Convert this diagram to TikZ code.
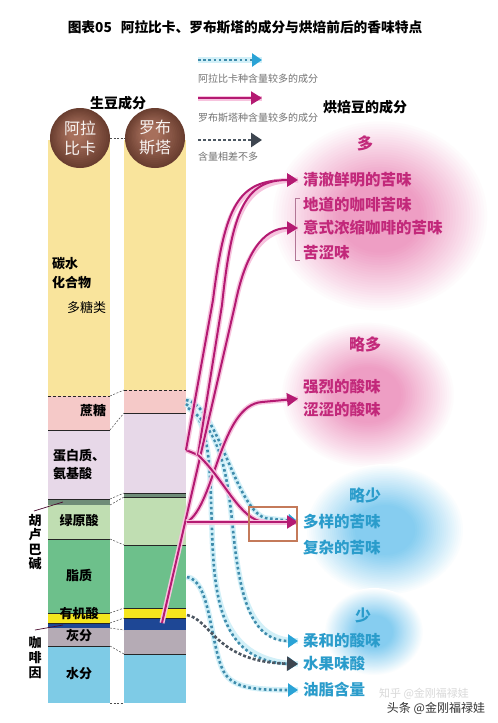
\documentclass[tikz,border=0pt]{standalone}
\usepackage{fontspec}
\setmainfont{Noto Sans CJK SC}
\usetikzlibrary{arrows.meta,calc}
\definecolor{barY}{HTML}{F9E49C}
\definecolor{barP}{HTML}{F5C9C8}
\definecolor{barL}{HTML}{E7D8E8}
\definecolor{barBand}{HTML}{6F8C78}
\definecolor{barLG}{HTML}{C0DEB2}
\definecolor{barMG}{HTML}{6DC08B}
\definecolor{barY2}{HTML}{F6E61E}
\definecolor{barN}{HTML}{1E4795}
\definecolor{barG}{HTML}{B5ABB5}
\definecolor{barB}{HTML}{7ECBE6}
\definecolor{brownL}{HTML}{A8705C}
\definecolor{brownD}{HTML}{6A3E30}
\definecolor{magC}{HTML}{B41A72}
\definecolor{magH}{HTML}{F7C3DE}
\definecolor{pinkT}{HTML}{C2287A}
\definecolor{blueT}{HTML}{2A9CCB}
\definecolor{dotC}{HTML}{3F8CAC}
\definecolor{cyanH}{HTML}{D2F0F8}
\definecolor{cyanT}{HTML}{2AA3D6}
\definecolor{dotG}{HTML}{4D5762}
\definecolor{grayT}{HTML}{3E4650}
\definecolor{pinkblobC}{HTML}{EE9EC4}
\definecolor{blueblobC}{HTML}{86CDF0}
\definecolor{boxC}{HTML}{C47A5A}
\newcommand\softblob[4]{%
  \foreach \i in {0,...,29}{%
    \pgfmathsetmacro\rf{1-\i*0.026}%
    \pgfmathsetmacro\cp{min(100,\i*4.2)}%
    \fill[#4!\cp!white] #1 ellipse [x radius=\rf*#2, y radius=\rf*#3];
  }%
}
\newcommand\beanball[1]{%
  \foreach \i in {0,...,14}{%
    \pgfmathsetmacro\rf{30-\i*1.6}%
    \pgfmathsetmacro\cp{\i*7}%
    \fill[brownL!\cp!brownD] #1 ++(-\i*0.25,-\i*0.35) circle [radius=\rf pt];
  }%
}
\tikzset{
  barline/.style={draw=black!85, line width=0.8pt},
  dashline/.style={draw=black!85, line width=0.8pt, dash pattern=on 3pt off 2pt},
  link/.style={draw=gray!60!black, line width=0.5pt, dash pattern=on 2pt off 1.5pt},
  magline/.style={draw=magC, line width=2pt, preaction={draw=magH, line width=5pt}},
  magarrow/.style={draw=magC, line width=2pt, preaction={draw=magH, line width=5pt, arrows=-},
     -{Triangle[length=11pt,width=13pt,color=magC]}, shorten >=2pt},
  cyanarrow/.style={draw=dotC, line width=2.6pt, dash pattern=on 2.6pt off 2.6pt,
     preaction={draw=cyanH, line width=5.5pt, solid, arrows=-},
     -{Triangle[length=10pt,width=13pt,color=cyanT]}, shorten >=2pt},
  grayarrow/.style={draw=dotG, line width=2.6pt, dash pattern=on 3pt off 2pt,
     -{Triangle[length=11pt,width=14pt,color=grayT]}, shorten >=2pt},
  leader/.style={draw=black!60!magC, line width=0.7pt},
  bartext/.style={font=\bfseries\fontsize{13}{14}\selectfont, inner sep=0pt},
  rtextP/.style={font=\bfseries\fontsize{15.5}{16}\selectfont, text=pinkT, inner sep=3pt, anchor=west},
  rtextB/.style={font=\bfseries\fontsize{15.5}{16}\selectfont, text=blueT, inner sep=3pt, anchor=west},
  legtext/.style={font=\fontsize{10}{11}\selectfont, text=black!55, anchor=west, inner sep=0pt},
  head/.style={font=\bfseries\fontsize{14}{15}\selectfont, inner sep=0pt},
}
\begin{document}
\begin{tikzpicture}[x=1pt,y=-1pt]
\useasboundingbox (0,0) rectangle (498,723);
\fill[white] (0,0) rectangle (498,723);

% blobs
\softblob{(380,216)}{110pt}{97pt}{pinkblobC}
\softblob{(368,395)}{88pt}{74pt}{pinkblobC}
\softblob{(385,530)}{80pt}{66pt}{blueblobC}
\softblob{(374,632)}{50pt}{44pt}{blueblobC}

% title and headers
\node[font=\bfseries\fontsize{13.7}{15}\selectfont, inner sep=0pt] (title) at (245,27) {图表05\hspace{9pt}阿拉比卡、罗布斯塔的成分与烘焙前后的香味特点};
\node[head] (raw) at (118,103) {生豆成分};
\node[head] (roast) at (365,107) {烘焙豆的成分};

% legend
\coordinate (lg1a) at (198,60); \coordinate (lg1b) at (262,60);
\coordinate (lg2a) at (198,98); \coordinate (lg2b) at (262,98);
\coordinate (lg3a) at (198,140); \coordinate (lg3b) at (262,140);
\draw[cyanarrow, shorten >=0pt] (lg1a) -- (lg1b);
\node[legtext] (lgt1) at (198,79) {阿拉比卡种含量较多的成分};
\draw[magarrow, shorten >=0pt] (lg2a) -- (lg2b);
\node[legtext] (lgt2) at (198,118) {罗布斯塔种含量较多的成分};
\draw[grayarrow, shorten >=0pt] (lg3a) -- (lg3b);
\node[legtext] (lgt3) at (198,157) {含量相差不多};

% left bar (Arabica)
\fill[barY] (48,140) rectangle (110,396);
\fill[barP] (48,396) rectangle (110,430);
\fill[barL] (48,430) rectangle (110,499);
\fill[barBand] (48,499) rectangle (110,505);
\fill[barLG] (48,505) rectangle (110,539);
\fill[barMG] (48,539) rectangle (110,613);
\fill[barY2] (48,613) rectangle (110,623);
\fill[barN] (48,623) rectangle (110,628);
\fill[barG] (48,628) rectangle (110,646);
\fill[barB] (48,646) rectangle (110,703);
\draw[dashline] (48,396) -- (110,396);
\foreach \yy in {430,499,539,613,623,646} \draw[barline] (48,\yy) -- (110,\yy);

% right bar (Robusta)
\fill[barY] (124,140) rectangle (186,390);
\fill[barP] (124,390) rectangle (186,413);
\fill[barL] (124,413) rectangle (186,493);
\fill[barBand] (124,493) rectangle (186,497);
\fill[barLG] (124,497) rectangle (186,545);
\fill[barMG] (124,545) rectangle (186,608);
\fill[barY2] (124,608) rectangle (186,618);
\fill[barN] (124,618) rectangle (186,630);
\fill[barG] (124,630) rectangle (186,654);
\fill[barB] (124,654) rectangle (186,703);
\draw[dashline] (124,390) -- (186,390);
\foreach \yy in {413,493,497,545,608,618,654} \draw[barline] (124,\yy) -- (186,\yy);

% links between bars
\draw[link] (110,138) -- (125,138);
\draw[link] (110,396) -- (124,390);
\draw[link] (110,430) -- (124,413);
\draw[link] (110,499) -- (124,493);
\draw[link] (110,505) -- (124,497);
\draw[link] (110,539) -- (124,545);
\draw[link] (110,613) -- (124,608);
\draw[link] (110,623) -- (124,618);
\draw[link] (110,628) -- (124,630);
\draw[link] (110,646) -- (124,654);
\draw[link] (110,703) -- (124,703);

% beans
\beanball{(80,138)}
\beanball{(155,138)}
\node[font=\fontsize{16}{20}\selectfont, text=white!92!brownL, align=center, inner sep=0pt] (ara) at (80,138) {阿拉\\比卡};
\node[font=\fontsize{16}{20}\selectfont, text=white!92!brownL, align=center, inner sep=0pt] (rob) at (155,138) {罗布\\斯塔};

% bar labels
\node[bartext, anchor=west] (carb1) at (52,264) {碳水};
\node[bartext, anchor=west] (carb2) at (52,283) {化合物};
\node[font=\fontsize{13}{14}\selectfont, inner sep=0pt, anchor=west] (poly) at (67,308) {多糖类};
\node[bartext] (suc) at (93,411) {蔗糖};
\node[bartext, anchor=west] (prot1) at (53,456) {蛋白质、};
\node[bartext, anchor=west] (prot2) at (53,474) {氨基酸};
\node[bartext] (cga) at (79,521) {绿原酸};
\node[bartext] (lip) at (79,576) {脂质};
\node[bartext] (org) at (79,614) {有机酸};
\node[bartext] (ash) at (79,636) {灰分};
\node[bartext] (wat) at (79,674) {水分};
\node[font=\bfseries\fontsize{13}{14.5}\selectfont, align=center, inner sep=0pt] (trig) at (35,542) {胡\\卢\\巴\\碱};
\node[font=\bfseries\fontsize{13}{15}\selectfont, align=center, inner sep=0pt] (caf) at (35,658) {咖\\啡\\因};
\coordinate (trigTop) at (34,511);
\coordinate (trigBand) at (63,502);
\coordinate (cafTop) at (35,630);
\coordinate (cafBand) at (63,625);
\draw[leader] (trigTop) -- (trigBand);
\draw[leader] (cafTop) -- (cafBand);

% right side texts
\node[font=\bfseries\fontsize{16}{16}\selectfont, text=pinkT, inner sep=0pt] (lv1) at (365,143) {多};
\node[rtextP] (t1) at (300,180) {清澈鲜明的苦味};
\node[rtextP] (t2) at (300,205) {地道的咖啡苦味};
\node[rtextP] (t3) at (300,228) {意式浓缩咖啡的苦味};
\node[rtextP] (t4) at (300,253) {苦涩味};
\node[font=\bfseries\fontsize{16}{16}\selectfont, text=pinkT, inner sep=0pt] (lv2) at (365,344) {略多};
\node[rtextP] (s1) at (300,387) {强烈的酸味};
\node[rtextP] (s2) at (300,410) {涩涩的酸味};
\node[font=\bfseries\fontsize{16}{16}\selectfont, text=blueT, inner sep=0pt] (lv3) at (365,495) {略少};
\node[rtextB] (m1) at (300,522) {多样的苦味};
\node[rtextB] (m2) at (300,548) {复杂的苦味};
\node[font=\bfseries\fontsize{16}{16}\selectfont, text=blueT, inner sep=0pt] (lv4) at (363,615) {少};
\node[rtextB] (w1) at (300,641) {柔和的酸味};
\node[rtextB] (w2) at (300,664) {水果味酸};
\node[rtextB] (w3) at (300,690) {油脂含量};

% bracket
\draw[draw=black!35!pinkT!60, line width=0.6pt] (t2.west) ++(0,-7) -- ++(-5,0) |- ($(t4.west)+(0,7)$);

% connector start points
\coordinate (sucR) at (186,400);
\coordinate (sucR2) at (186,404);
\coordinate (sucR3) at (188,408);
\coordinate (protA) at (186,450);
\coordinate (protB) at (198,455);
\coordinate (cgaR) at (187,522);
\coordinate (lipR) at (187,577);
\coordinate (orgR) at (187,615);
\coordinate (cafR) at (162,623);
\coordinate (sArr) at ($(s1.west)!0.5!(s2.west)$);

% cyan dotted (Arabica)
\draw[cyanarrow] (sucR2) .. controls (212,420) and (210,480) .. (212,530) .. controls (214,600) and (222,662) .. (w2.west);
\draw[cyanarrow] (sucR3) .. controls (222,430) and (228,480) .. (233,530) .. controls (240,600) and (252,641) .. (w1.west);
\draw[cyanarrow] (lipR) .. controls (210,580) and (210,640) .. (222,668) .. controls (230,688) and (252,690) .. (w3.west);
\draw[cyanarrow] (sucR) .. controls (218,405) and (235,508) .. (265,518) -- (m1.west);
\draw[grayarrow] (orgR) .. controls (212,620) and (215,662) .. (w2.west);

% magenta (Robusta)
\draw[magline] (protA) -- (protB);
\draw[magarrow] (protA) -- (213,300) .. controls (225,205) and (238,180) .. (t1.west);
\draw[magarrow] (protB) -- (222,305) .. controls (232,210) and (245,180) .. (t1.west);
\draw[magarrow] (cafR) -- (235,305) .. controls (245,255) and (262,228) .. (t3.west);
\draw[magarrow] (cgaR) .. controls (215,505) and (220,405) .. (262,402) -- (sArr);
\draw[magline] (protB) .. controls (225,480) and (240,521) .. (265,522);
\draw[magarrow] (cgaR) -- (m1.west);

% highlight box
\draw[boxC, line width=2pt] (249,507) rectangle (297,541);

% watermark
\node[font=\fontsize{11}{11}\selectfont, text=gray!30, inner sep=0pt] (wm0) at (424,694) {知乎 @金刚福禄娃};
\node[font=\fontsize{12}{12}\selectfont, text=black!80, inner sep=0pt] (wm) at (436,708) {头条 @金刚福禄娃};
\end{tikzpicture}
\end{document}
